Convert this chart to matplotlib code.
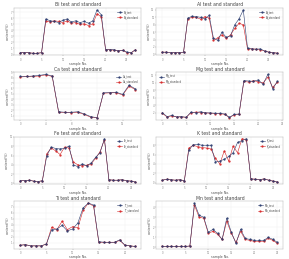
import matplotlib
matplotlib.use('Agg')
import matplotlib.pyplot as plt
from matplotlib.ticker import MaxNLocator
import numpy as np

# element contents per sample, test vs standard
elements = ['Bi', 'Al', 'Ca', 'Mg', 'Fe', 'K', 'Ti', 'Mn']

bi_test = [0.3, 0.3, 0.3, 0.2, 0.2, 0.3, 5.9, 5.6, 5.5, 5.3, 5.7, 5.9, 5.4, 5.6, 5.3, 5.5, 5.2, 5.6, 7.4, 6.6, 0.8, 0.8, 0.8, 0.6, 0.7, 0.4, 0.3, 0.8]
bi_std = [0.3, 0.3, 0.3, 0.2, 0.2, 0.3, 5.6, 5.4, 5.6, 5.5, 5.3, 5.6, 5.2, 5.3, 5.0, 5.1, 4.8, 5.1, 6.8, 6.2, 0.8, 0.8, 0.7, 0.6, 0.7, 0.3, 0.3, 0.8]

al_test = [0.6, 0.6, 0.5, 0.5, 0.5, 0.6, 9.8, 10.3, 10.2, 10.0, 9.6, 10.5, 4.4, 3.8, 6.0, 4.6, 5.0, 8.0, 9.6, 12.0, 1.6, 1.5, 1.4, 1.5, 0.9, 0.6, 0.5, 0.3]
al_std = [0.6, 0.6, 0.5, 0.5, 0.5, 0.6, 9.6, 10.0, 10.0, 9.5, 10.2, 9.8, 3.8, 4.5, 5.3, 4.3, 5.3, 7.0, 8.4, 8.0, 1.4, 1.5, 1.4, 1.3, 0.9, 0.6, 0.5, 0.3]

ca_test = [8.2, 8.2, 8.3, 8.4, 8.6, 8.3, 1.7, 1.6, 1.6, 1.7, 1.3, 0.8, 0.6, 5.2, 5.2, 5.3, 4.9, 6.6, 5.9]
ca_std = [8.1, 8.2, 8.2, 8.3, 8.5, 8.2, 1.6, 1.6, 1.5, 1.6, 1.2, 0.7, 0.6, 5.1, 5.2, 5.2, 4.8, 6.4, 5.8]

mg_test = [2.0, 0.9, 1.2, 0.8, 0.9, 0.7, 2.1, 2.0, 2.2, 1.9, 1.9, 1.8, 1.8, 1.6, 0.7, 1.5, 1.6, 10.6, 10.5, 10.4, 10.8, 9.6, 12.3, 8.4, 10.4]
mg_std = [1.8, 0.8, 1.1, 0.8, 0.8, 0.7, 2.0, 2.1, 2.0, 1.9, 1.8, 1.7, 1.7, 1.5, 0.6, 1.4, 1.5, 10.4, 10.2, 10.6, 10.3, 10.0, 11.5, 8.8, 10.2]

fe_test = [0.6, 0.6, 0.7, 0.5, 0.4, 0.6, 6.0, 7.8, 7.5, 7.4, 7.6, 8.0, 4.0, 3.6, 4.2, 3.8, 4.4, 5.6, 6.6, 9.6, 0.8, 0.7, 0.7, 0.8, 0.6, 0.5, 0.3]
fe_std = [0.6, 0.6, 0.7, 0.5, 0.4, 0.6, 6.4, 7.6, 7.0, 6.2, 7.8, 7.6, 4.6, 4.0, 3.8, 3.9, 4.2, 5.4, 6.8, 9.4, 0.8, 0.7, 0.7, 0.8, 0.6, 0.5, 0.3]

k_test = [0.5, 0.7, 0.6, 0.5, 0.6, 0.4, 7.0, 8.1, 8.2, 8.0, 8.0, 8.0, 4.4, 4.6, 5.0, 5.6, 6.4, 8.6, 9.0, 9.4, 0.8, 0.7, 0.6, 0.8, 0.5, 0.3, 0.1]
k_std = [0.5, 0.7, 0.6, 0.5, 0.6, 0.4, 7.4, 8.0, 7.7, 7.5, 7.4, 7.2, 5.2, 4.0, 6.8, 4.6, 7.8, 6.4, 9.4, 9.2, 0.8, 0.7, 0.6, 0.8, 0.5, 0.3, 0.1]

ti_test = [0.6, 0.7, 0.5, 0.5, 0.5, 0.8, 3.2, 3.3, 3.9, 3.0, 3.3, 4.3, 6.8, 7.6, 7.3, 1.2, 1.1, 1.1, 1.1, 1.5, 0.6, 0.5, 0.4]
ti_std = [0.6, 0.7, 0.5, 0.5, 0.5, 0.8, 3.6, 3.2, 4.6, 3.2, 3.7, 3.5, 6.4, 7.6, 7.1, 1.1, 1.1, 1.1, 1.1, 1.4, 0.6, 0.5, 0.4]

mn_test = [0.1, 0.1, 0.1, 0.1, 0.1, 0.1, 0.15, 4.4, 3.2, 3.0, 1.5, 1.8, 1.4, 0.8, 2.9, 1.5, 0.4, 1.8, 0.9, 0.8, 0.7, 0.7, 0.7, 1.0, 0.8, 0.5]
mn_std = [0.1, 0.1, 0.1, 0.1, 0.1, 0.1, 0.15, 4.2, 3.0, 2.9, 1.4, 1.6, 1.3, 0.8, 2.6, 1.4, 0.5, 1.6, 0.8, 0.7, 0.6, 0.6, 0.6, 0.9, 0.7, 0.4]

tests = [bi_test, al_test, ca_test, mg_test, fe_test, k_test, ti_test, mn_test]
stds = [bi_std, al_std, ca_std, mg_std, fe_std, k_std, ti_std, mn_std]

plt.rcParams['font.size'] = 2.5
plt.rcParams['text.color'] = '#444444'
plt.rcParams['axes.labelcolor'] = '#555555'
plt.rcParams['xtick.color'] = '#888888'
plt.rcParams['ytick.color'] = '#888888'
fig, axes = plt.subplots(4, 2, figsize=(2.89, 2.59), dpi=100)

for ax, el, t, s in zip(axes.flat, elements, tests, stds):
    x = np.arange(len(t))
    ax.plot(x, s, color='#d62728', lw=0.4, marker='o', ms=0.6, label=el + '_standard')
    ax.plot(x, t, color='#2a3b6e', lw=0.4, marker='o', ms=0.6, label=el + '_test')
    ax.set_title(el + ' test and standard', fontsize=3.3, pad=1)
    ax.set_xlabel('sample No.', fontsize=2.3, labelpad=0.5)
    ax.set_ylabel('content(%)', fontsize=2.3, labelpad=0.5)
    ax.xaxis.set_major_locator(MaxNLocator(6, integer=True))
    ax.tick_params(labelsize=1.8, length=1, width=0.3, pad=0.5)
    ax.grid(True, color='#f0f0f0', lw=0.3)
    for sp in ax.spines.values():
        sp.set_linewidth(0.3)
        sp.set_color('#aaaaaa')
    handles, labels = ax.get_legend_handles_labels()
    ax.legend(handles[::-1], labels[::-1], fontsize=1.8, loc='upper left' if el == 'Mg' else 'upper right',
              frameon=False, handlelength=2)

plt.subplots_adjust(left=0.05, right=0.98, top=0.97, bottom=0.04, wspace=0.12, hspace=0.35)
plt.savefig('out.png', dpi=100)
